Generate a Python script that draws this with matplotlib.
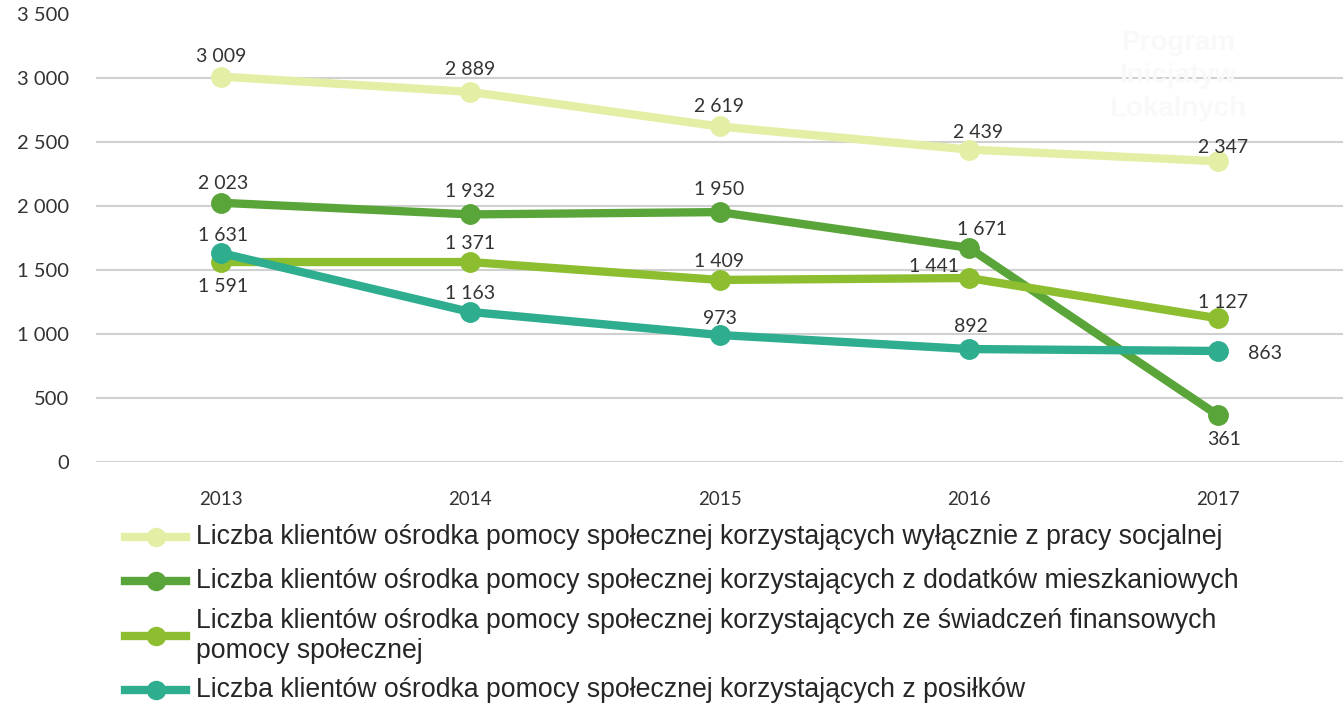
"""
liczba klientow OPS 2013-2017, wykres liniowy
"""

import matplotlib

matplotlib.use("Agg")
import matplotlib.pyplot as plt
from matplotlib.lines import Line2D

years = ["2013", "2014", "2015", "2016", "2017"]

praca_socjalna = [3009, 2889, 2619, 2439, 2347]
dodatki_mieszk = [2023, 1932, 1950, 1671, 361]
swiadczenia_fin = [1560, 1560, 1420, 1435, 1120]
posilki = [1631, 1170, 990, 880, 865]

# data labels as printed on the chart
lbl_praca = ["3 009", "2 889", "2 619", "2 439", "2 347"]
lbl_dodatki = ["2 023", "1 932", "1 950", "1 671", "361"]
lbl_swiadcz = ["1 591", "1 371", "1 409", "1 441", "1 127"]
lbl_posilki = ["1 631", "1 163", "973", "892", "863"]

names = [
    "Liczba klientów ośrodka pomocy społecznej korzystających wyłącznie z pracy socjalnej",
    "Liczba klientów ośrodka pomocy społecznej korzystających z dodatków mieszkaniowych",
    "Liczba klientów ośrodka pomocy społecznej korzystających ze świadczeń finansowych\npomocy społecznej",
    "Liczba klientów ośrodka pomocy społecznej korzystających z posiłków",
]

yticks = [0, 500, 1000, 1500, 2000, 2500, 3000, 3500]
ytick_labels = ["0", "500", "1 000", "1 500", "2 000", "2 500", "3 000", "3 500"]

colors = ["#E5EEA5", "#5AA53A", "#8CBE2F", "#2EAD8F"]

# label offsets in pixels (dx, dy) per point
offsets = [
    [(0, 20), (0, 22), (0, 20), (9, 17), (5, 14)],
    [(2, 19), (0, 23), (0, 23), (13, 18), (6, -24)],
    [(2, -24), (0, 19), (0, 18), (-35, 12), (5, 16)],
    [(2, 17), (0, 18), (0, 16), (2, 23), (47, -3)],
]

series = [praca_socjalna, dodatki_mieszk, swiadczenia_fin, posilki]
labels = [lbl_praca, lbl_dodatki, lbl_swiadcz, lbl_posilki]

NUM_FONT = ["Lato", "DejaVu Sans"]
TXT_COLOR = "#333333"

fig = plt.figure(figsize=(13.43, 7.07), dpi=100)
ax = fig.add_axes([96 / 1343, 1 - 461.7 / 707, 1 - 96 / 1343, 448 / 707])

x = list(range(len(years)))
ax.set_xlim(-0.5, 4.5)
ax.set_ylim(0, 3500)

# grid lines (no line at the top 3500)
ax.hlines(yticks[:-1], -0.5, 4.5, colors="#D0D0D0", linewidth=1.5, zorder=1)

# faint watermark text
fig.text(1178 / 1343, 1 - 76 / 707, "Program\nInicjatyw\nLokalnych", ha="center",
         va="center", fontsize=20, fontweight="bold", color="#F9F9F9",
         family="Liberation Sans", linespacing=1.35, zorder=2)

for vals, lbls, offs, c in zip(series, labels, offsets, colors):
    ax.plot(x, vals, color=c, linewidth=6, marker="o", markersize=14,
            solid_capstyle="round", zorder=3)
    for xi, v, t, (dx, dy) in zip(x, vals, lbls, offs):
        ax.annotate(t, (xi, v), xytext=(dx, dy), textcoords="offset pixels",
                    ha="center", va="center", fontsize=14, color=TXT_COLOR,
                    family=NUM_FONT, zorder=4)

ax.set_xticks(x)
ax.set_xticklabels(years, family=NUM_FONT, fontsize=13.5, color=TXT_COLOR)
ax.set_yticks(yticks)
ax.set_yticklabels(ytick_labels, family=NUM_FONT, fontsize=14.5, color=TXT_COLOR)
ax.tick_params(axis="both", length=0)
ax.tick_params(axis="y", pad=19.5)
ax.tick_params(axis="x", pad=21)
for s in ax.spines.values():
    s.set_visible(False)

# legend drawn by hand below the plot
row_y = [537, 581, 636, 690]
for name, c, yy in zip(names, colors, row_y):
    yf = 1 - yy / 707
    fig.add_artist(Line2D([125 / 1343, 186 / 1343], [yf, yf], color=c,
                          linewidth=6, transform=fig.transFigure))
    fig.add_artist(Line2D([155.5 / 1343], [yf], color=c, marker="o",
                          markersize=13, transform=fig.transFigure))
    fig.text(196 / 1343, yf, name, ha="left", va="center", fontsize=19.2,
             family="Liberation Sans", color="#262626", linespacing=1.15)

plt.savefig("out.png", dpi=100)
